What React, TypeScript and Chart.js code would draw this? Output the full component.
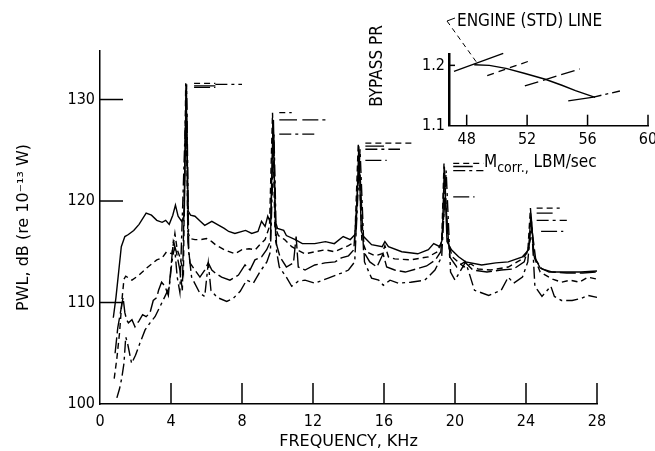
import React, { useEffect, useRef } from "react";
import { Chart, registerables } from "chart.js";
Chart.register(...registerables);

const FONT = '"DejaVu Sans Condensed", "Liberation Sans Narrow", "DejaVu Sans", sans-serif';
const TITLE_FONT = '"DejaVu Sans", sans-serif';

// ---- main chart axes ----
const xTickValues = [0, 4, 8, 12, 16, 20, 24, 28];
const yTickValues = [100, 110, 120, 130];

// ---- spectra (frequency kHz, PWL dB) ----
const solidFreq = [0.75, 0.9, 1.05, 1.2, 1.4, 1.6, 1.9, 2.2, 2.6, 2.9, 3.2, 3.5, 3.7, 3.9, 4.1, 4.25, 4.4, 4.6, 4.75, 4.85, 4.97, 5.1, 5.35, 5.65, 5.9, 6.3, 6.7, 7.0, 7.25, 7.6, 8.2, 8.55, 8.9, 9.1, 9.3, 9.45, 9.62, 9.75, 9.88, 10.0, 10.35, 10.5, 11.0, 11.4, 12.1, 12.7, 13.2, 13.7, 14.1, 14.42, 14.58, 14.72, 14.85, 15.3, 15.9, 16.05, 16.25, 17.0, 17.9, 18.5, 18.8, 19.15, 19.28, 19.4, 19.55, 19.8, 20.2, 20.6, 21.5, 22.3, 23.0, 23.8, 24.15, 24.28, 24.45, 24.8, 25.3, 26.2, 27.1, 28.0];
const solidDb = [108.5, 110.5, 113.0, 115.5, 116.5, 116.7, 117.1, 117.7, 118.8, 118.6, 118.1, 117.9, 118.1, 117.7, 118.6, 119.6, 118.5, 118.0, 118.6, 131.35, 119.0, 118.6, 118.5, 118.0, 117.6, 118.0, 117.6, 117.3, 117.0, 116.8, 117.1, 116.8, 117.0, 118.0, 117.5, 118.5, 117.8, 128.0, 118.0, 117.3, 117.1, 116.6, 116.2, 115.8, 115.8, 116.0, 115.8, 116.5, 116.2, 116.8, 125.4, 117.0, 116.5, 115.7, 115.5, 116.0, 115.5, 115.0, 114.8, 115.2, 115.8, 115.5, 116.2, 123.4, 116.0, 115.2, 114.5, 114.0, 113.7, 113.9, 114.0, 114.5, 115.2, 118.8, 114.6, 113.4, 113.0, 113.0, 113.0, 113.1];

const dashedFreq = [0.8, 0.95, 1.1, 1.25, 1.35, 1.45, 1.8, 2.2, 2.7, 3.2, 3.5, 3.75, 4.05, 4.22, 4.35, 4.5, 4.7, 4.83, 4.95, 5.07, 5.35, 5.7, 6.0, 6.3, 6.5, 7.0, 7.6, 8.0, 8.4, 8.75, 9.0, 9.3, 9.55, 9.72, 9.85, 10.05, 10.4, 10.8, 11.1, 11.55, 12.1, 12.7, 13.2, 13.6, 14.0, 14.35, 14.55, 14.75, 15.0, 15.5, 15.9, 16.05, 16.25, 16.6, 17.5, 18.5, 19.0, 19.25, 19.38, 19.6, 19.85, 20.5, 20.9, 21.3, 22.0, 23.0, 23.8, 24.1, 24.25, 24.45, 24.8, 25.5, 26.0, 26.5, 27.0, 27.5, 28.0];
const dashedDb = [102.5, 104.5, 107.0, 110.5, 112.3, 112.6, 112.2, 112.7, 113.5, 114.2, 114.4, 115.0, 114.8, 116.8, 115.2, 114.5, 112.9, 131.6, 117.0, 116.3, 116.2, 116.2, 116.3, 116.0, 115.7, 115.2, 114.8, 115.2, 115.3, 115.2, 115.7, 116.2, 117.5, 128.7, 117.5, 116.6, 116.2, 115.5, 115.2, 114.8, 115.0, 115.2, 115.0, 115.3, 115.6, 116.0, 125.7, 116.2, 115.0, 114.6, 114.8, 115.6, 114.5, 114.3, 114.2, 114.5, 115.0, 116.0, 123.7, 116.0, 114.5, 113.5, 113.8, 113.3, 113.2, 113.5, 114.3, 115.0, 119.3, 114.5, 113.0, 112.3, 112.0, 112.2, 112.0, 112.5, 112.3];

const longFreq = [0.85, 1.0, 1.15, 1.3, 1.4, 1.5, 1.6, 1.8, 1.97, 2.2, 2.4, 2.6, 2.82, 3.0, 3.2, 3.3, 3.47, 3.66, 3.85, 4.0, 4.13, 4.3, 4.5, 4.64, 4.87, 4.95, 5.07, 5.35, 5.63, 5.9, 6.1, 6.3, 6.5, 6.85, 7.32, 7.8, 8.17, 8.45, 8.73, 9.1, 9.39, 9.6, 9.77, 9.9, 10.14, 10.5, 10.9, 11.05, 11.17, 11.55, 12.1, 12.68, 13.24, 13.6, 14.0, 14.3, 14.62, 14.85, 15.2, 15.6, 15.95, 16.15, 16.6, 17.2, 17.8, 18.4, 18.9, 19.2, 19.45, 19.7, 20.1, 20.55, 21.0, 21.8, 22.6, 23.3, 23.9, 24.15, 24.35, 24.55, 24.9, 25.5, 26.3, 27.2, 28.0];
const longDb = [105.0, 107.5, 109.0, 110.5, 109.0, 108.3, 108.0, 108.3, 107.6, 108.2, 108.8, 108.6, 109.0, 110.2, 110.5, 111.2, 112.0, 111.6, 110.7, 113.5, 116.0, 115.0, 113.2, 111.2, 131.2, 116.0, 113.9, 113.2, 112.5, 113.2, 113.9, 113.2, 112.9, 112.5, 112.2, 112.7, 113.7, 113.2, 114.2, 114.5, 115.2, 116.0, 128.0, 116.0, 114.5, 113.5, 113.9, 116.5, 113.5, 113.2, 113.7, 113.9, 114.0, 114.4, 114.6, 115.2, 124.0, 115.0, 114.0, 113.5, 114.8, 113.5, 113.2, 113.0, 113.3, 113.6, 114.2, 115.0, 120.4, 114.5, 113.5, 114.0, 113.2, 113.0, 113.2, 113.3, 114.0, 115.5, 117.0, 114.2, 113.3, 113.0, 112.9, 112.9, 113.0];

const dotFreq = [0.95, 1.1, 1.22, 1.35, 1.45, 1.55, 1.78, 2.0, 2.25, 2.54, 2.82, 3.1, 3.38, 3.66, 3.9, 4.05, 4.2, 4.35, 4.5, 4.88, 5.0, 5.16, 5.63, 5.9, 6.1, 6.25, 6.6, 7.14, 7.5, 7.9, 8.26, 8.64, 9.0, 9.4, 9.6, 9.8, 9.95, 10.1, 10.5, 10.8, 11.17, 11.55, 12.1, 12.86, 13.6, 14.0, 14.35, 14.65, 14.9, 15.3, 15.7, 15.96, 16.34, 16.8, 17.5, 18.3, 18.87, 19.25, 19.5, 19.75, 20.0, 20.6, 21.1, 21.9, 22.6, 23.0, 23.3, 23.8, 24.1, 24.3, 24.5, 24.9, 25.4, 25.6, 26.0, 26.6, 27.1, 27.5, 28.0];
const dotDb = [100.6, 101.5, 102.5, 104.0, 106.6, 106.0, 104.0, 104.8, 106.0, 107.3, 108.0, 108.6, 109.6, 110.6, 111.5, 114.0, 115.5, 112.5, 111.0, 131.5, 115.0, 112.5, 110.9, 110.6, 113.9, 111.2, 110.5, 110.1, 110.4, 111.1, 112.2, 111.9, 113.0, 114.0, 115.0, 126.6, 115.0, 113.5, 112.5, 111.6, 112.1, 112.2, 111.9, 112.4, 112.9, 113.2, 114.0, 125.1, 114.0, 112.4, 112.2, 111.7, 112.2, 111.9, 112.0, 112.2, 113.2, 114.5, 123.0, 113.0, 112.2, 114.0, 111.2, 110.7, 111.2, 112.5, 111.9, 112.5, 114.0, 118.1, 111.6, 110.6, 111.6, 110.6, 110.2, 110.2, 110.4, 110.7, 110.5];

// ---- tone level markers (level dB, from kHz, to kHz) ----
const solidToneDb = [131.35, 128.0, 125.4, 123.4, 118.8];
const solidToneFrom = [5.3, 10.1, 14.95, 19.9, 24.6];
const solidToneTo = [6.5, 11.1, 16.0, 21.0, 25.5];
const dashedToneDb = [131.6, 128.7, 125.7, 123.7, 119.3];
const dashedToneFrom = [5.3, 10.1, 14.95, 19.9, 24.6];
const dashedToneTo = [6.5, 10.8, 17.6, 21.6, 25.9];
const longToneDb = [131.2, 128.0, 124.0, 120.4, 117.0];
const longToneFrom = [5.3, 11.4, 14.95, 19.9, 24.85];
const longToneTo = [6.5, 12.7, 16.15, 21.1, 26.1];
const dotToneDb = [131.5, 126.6, 125.1, 123.0, 118.1];
const dotToneFrom = [6.5, 10.1, 14.95, 19.9, 24.6];
const dotToneTo = [8.0, 12.1, 16.9, 21.6, 26.3];

// ---- inset: bypass PR vs corrected flow ----
const insetXTicks = [48, 52, 56, 60];
const insetYTicks = [1.1, 1.2];
const engineLineX = [48.5, 49.5, 50.6, 51.8, 53.2, 54.3, 55.2, 56.5];
const engineLineY = [1.201, 1.2, 1.195, 1.187, 1.177, 1.167, 1.158, 1.147];
const opSolidX = [47.16, 50.42];
const opSolidY = [1.19, 1.22];
const opDashedX = [49.36, 52.23];
const opDashedY = [1.183, 1.208];
const opLongX = [51.85, 55.49];
const opLongY = [1.166, 1.194];
const opDotSolidX = [54.72, 56.4];
const opDotSolidY = [1.141, 1.1475];
const opDotX = [56.4, 58.4];
const opDotY = [1.1475, 1.159];

const DASH_SHORT = [6, 4];
const DASH_LONG = [16, 4];
const DASH_DOT = [12, 4, 3, 4];

const pts = (xs: number[], ys: number[]) => xs.map((x, i) => ({ x, y: ys[i] }));
const segs = (lv: number[], from: number[], to: number[]) => {
  const out: any[] = [];
  lv.forEach((v, i) => {
    out.push({ x: from[i], y: v }, { x: to[i], y: v }, { x: to[i] + 0.01, y: null });
  });
  return out;
};
const line = (data: any[], dash: number[], width = 1.4) => ({
  data,
  borderColor: "#000",
  borderWidth: width,
  borderDash: dash,
  pointRadius: 0,
  tension: 0,
  fill: false,
  spanGaps: false,
  clip: false as any,
});

const mainTicksPlugin = {
  id: "mainTicks",
  afterDatasetsDraw(chart: any) {
    const { ctx, chartArea, scales } = chart;
    const x = scales.x, y = scales.y;
    ctx.save();
    ctx.strokeStyle = "#000";
    ctx.lineWidth = 1.5;
    ctx.setLineDash([]);
    yTickValues.forEach((v) => {
      if (v === y.min) return;
      const py = y.getPixelForValue(v);
      ctx.beginPath();
      ctx.moveTo(chartArea.left, py);
      ctx.lineTo(chartArea.left + 23, py);
      ctx.stroke();
    });
    xTickValues.forEach((v) => {
      if (v === x.min) return;
      const px = x.getPixelForValue(v);
      ctx.beginPath();
      ctx.moveTo(px, chartArea.bottom);
      ctx.lineTo(px, chartArea.bottom - 21);
      ctx.stroke();
    });
    ctx.restore();
  },
};

const insetPlugin = {
  id: "insetDecor",
  afterDatasetsDraw(chart: any) {
    const { ctx, chartArea, scales } = chart;
    const x = scales.x, y = scales.y;
    ctx.save();
    ctx.strokeStyle = "#000";
    ctx.fillStyle = "#000";
    ctx.lineWidth = 1.5;
    ctx.setLineDash([]);
    insetXTicks.forEach((v) => {
      const px = x.getPixelForValue(v);
      ctx.beginPath();
      ctx.moveTo(px, chartArea.bottom);
      ctx.lineTo(px, chartArea.bottom - 11);
      ctx.stroke();
    });
    const py = y.getPixelForValue(1.2);
    ctx.beginPath();
    ctx.moveTo(chartArea.left, py);
    ctx.lineTo(chartArea.left + 6, py);
    ctx.stroke();

    // leader from label to engine line
    const tipX = x.getPixelForValue(engineLineX[0] + 0.27);
    const tipY = y.getPixelForValue(engineLineY[0]);
    const tailX = chartArea.left - 2;
    const tailY = 21;
    ctx.lineWidth = 1;
    ctx.setLineDash([5, 4]);
    ctx.beginPath();
    ctx.moveTo(tailX, tailY);
    ctx.lineTo(tipX, tipY);
    ctx.stroke();
    ctx.setLineDash([]);
    ctx.beginPath();
    ctx.moveTo(tailX + 8, tailY - 3);
    ctx.lineTo(tailX, tailY);
    ctx.stroke();

    ctx.font = `17px ${FONT}`;
    ctx.textBaseline = "alphabetic";
    ctx.textAlign = "left";
    ctx.fillText("ENGINE (STD) LINE", chartArea.left + 8, 26);

    // y label rotated
    ctx.save();
    ctx.translate(382, 66);
    ctx.rotate(-Math.PI / 2);
    ctx.textAlign = "center";
    ctx.font = `17px ${FONT}`;
    ctx.fillText("BYPASS PR", 0, 0);
    ctx.restore();

    // x label with subscript
    let lx = chartArea.left + 35;
    const base = 167;
    ctx.font = `17px ${FONT}`;
    ctx.fillText("M", lx, base);
    lx += ctx.measureText("M").width;
    ctx.font = `14px ${FONT}`;
    ctx.fillText("corr.,", lx, base + 5);
    lx += ctx.measureText("corr.,").width;
    ctx.font = `17px ${FONT}`;
    ctx.fillText(" LBM/sec", lx, base);
    ctx.restore();
  },
};

export default function App() {
  const mainRef = useRef<HTMLCanvasElement>(null);
  const insetRef = useRef<HTMLCanvasElement>(null);

  useEffect(() => {
    const mainChart = new Chart(mainRef.current as HTMLCanvasElement, {
      type: "line",
      data: {
        datasets: [
          line(pts(solidFreq, solidDb), []),
          line(pts(dashedFreq, dashedDb), DASH_SHORT),
          line(pts(longFreq, longDb), DASH_LONG),
          line(pts(dotFreq, dotDb), DASH_DOT),
          line(segs(solidToneDb, solidToneFrom, solidToneTo), [], 1.3),
          line(segs(dashedToneDb, dashedToneFrom, dashedToneTo), DASH_SHORT, 1.3),
          line(segs(longToneDb, longToneFrom, longToneTo), DASH_LONG, 1.3),
          line(segs(dotToneDb, dotToneFrom, dotToneTo), DASH_DOT, 1.3),
        ] as any,
      },
      options: {
        animation: false,
        responsive: false,
        maintainAspectRatio: false,
        layout: { padding: { left: 0, right: 58, top: 50.8, bottom: 0 } },
        plugins: { legend: { display: false }, tooltip: { enabled: false } },
        scales: {
          x: {
            type: "linear",
            min: 0,
            max: 28,
            afterBuildTicks: (s: any) => {
              s.ticks = xTickValues.map((v) => ({ value: v }));
            },
            afterFit: (s: any) => {
              s.height = 47;
              s.paddingLeft = 0;
              s.paddingRight = 0;
            },
            grid: { display: false, drawTicks: false },
            border: { display: true, color: "#000", width: 1.5 },
            ticks: { color: "#000", font: { family: FONT, size: 16 }, padding: 8, maxRotation: 0, autoSkip: false },
            title: { display: true, text: "FREQUENCY, KHz", color: "#000", font: { family: TITLE_FONT, size: 16 }, padding: { top: 0, bottom: 0 } },
          },
          y: {
            type: "linear",
            min: 100,
            max: 134.8,
            afterBuildTicks: (s: any) => {
              s.ticks = yTickValues.map((v) => ({ value: v }));
            },
            afterFit: (s: any) => {
              s.width = 100;
            },
            grid: { display: false, drawTicks: false },
            border: { display: true, color: "#000", width: 1.5 },
            ticks: { color: "#000", font: { family: FONT, size: 16 }, padding: 5, autoSkip: false },
            title: { display: true, text: "PWL, dB (re 10\u207B\u00B9\u00B3 W)", color: "#000", font: { family: TITLE_FONT, size: 16 }, padding: { top: 14, bottom: 0 } },
          },
        },
      } as any,
      plugins: [mainTicksPlugin],
    });

    const insetChart = new Chart(insetRef.current as HTMLCanvasElement, {
      type: "line",
      data: {
        datasets: [
          line(pts(engineLineX, engineLineY), [], 1.4),
          line(pts(opSolidX, opSolidY), [], 1.3),
          line(pts(opDashedX, opDashedY), [7, 5], 1.3),
          line(pts(opLongX, opLongY), [14, 5], 1.3),
          line(pts(opDotSolidX, opDotSolidY), [], 1.3),
          line(pts(opDotX, opDotY), [8, 4, 3, 4], 1.3),
        ] as any,
      },
      options: {
        animation: false,
        responsive: false,
        maintainAspectRatio: false,
        layout: { padding: { left: 0, right: 7, top: 54.5, bottom: 305.3 } },
        plugins: { legend: { display: false }, tooltip: { enabled: false } },
        scales: {
          x: {
            type: "linear",
            min: 46.83,
            max: 60,
            afterBuildTicks: (s: any) => {
              s.ticks = insetXTicks.map((v) => ({ value: v }));
            },
            afterFit: (s: any) => {
              s.height = 20;
              s.paddingLeft = 0;
              s.paddingRight = 0;
            },
            grid: { display: false, drawTicks: false },
            border: { display: true, color: "#000", width: 1.5 },
            ticks: { color: "#000", font: { family: FONT, size: 16 }, padding: 5, maxRotation: 0, autoSkip: false },
          },
          y: {
            type: "linear",
            min: 1.1,
            max: 1.218,
            afterBuildTicks: (s: any) => {
              s.ticks = insetYTicks.map((v) => ({ value: v }));
            },
            afterFit: (s: any) => {
              s.width = 449;
              s.paddingTop = 0;
              s.paddingBottom = 0;
            },
            grid: { display: false, drawTicks: false },
            border: { display: true, color: "#000", width: 2.5 },
            ticks: { color: "#000", font: { family: FONT, size: 16 }, padding: 4, autoSkip: false, callback: (v: any) => Number(v).toFixed(1) },
          },
        },
      } as any,
      plugins: [insetPlugin],
    });

    return () => {
      mainChart.destroy();
      insetChart.destroy();
    };
  }, []);

  return (
    <div style={{ position: "fixed", left: 0, top: 0, width: 655, height: 451, background: "#fff" }}>
      <canvas ref={mainRef} width={655} height={451} style={{ position: "absolute", left: 0, top: 0, width: 655, height: 451 }} />
      <canvas ref={insetRef} width={655} height={451} style={{ position: "absolute", left: 0, top: 0, width: 655, height: 451, pointerEvents: "none" }} />
    </div>
  );
}
